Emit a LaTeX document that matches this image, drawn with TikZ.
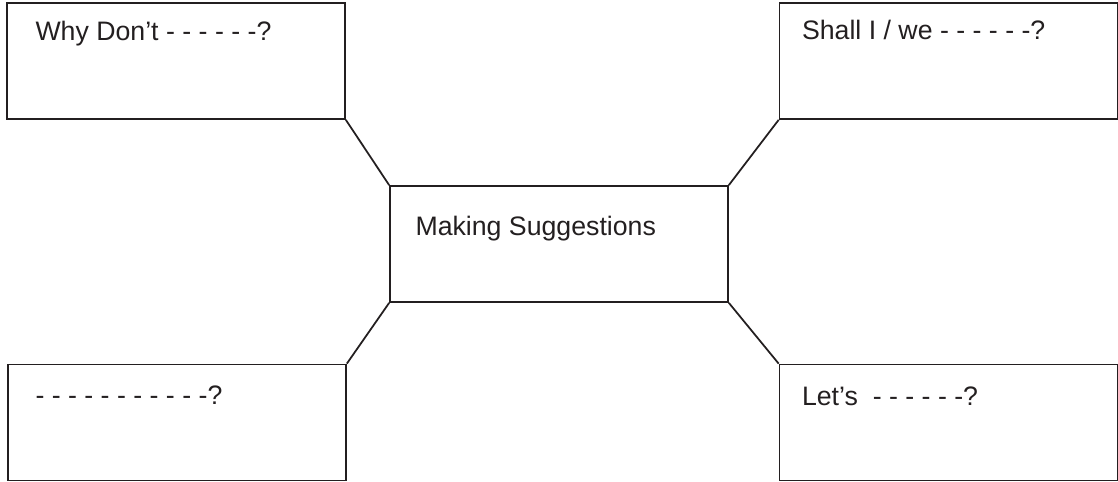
\documentclass[tikz,border=0pt]{standalone}
\usepackage{fontspec}
\setmainfont{Liberation Sans}
\usetikzlibrary{positioning}

\definecolor{inkgray}{HTML}{231F20}

\begin{document}
\begin{tikzpicture}[
  x=0.02cm, y=-0.02cm,
  box/.style={draw=inkgray, line width=1pt, minimum width=6.76cm, minimum height=2.32cm, inner sep=0pt},
  lbl/.style={anchor=base west, inner sep=0pt, text=inkgray, font=\fontsize{15.2}{18}\selectfont},
  link/.style={draw=inkgray, line width=1pt}
]
  \useasboundingbox (0,0) rectangle (1118,482);

  % the five boxes
  \node[box] (dont) at (176,61) {};
  \node[box] (shall) at (948.5,61) {};
  \node[box] (topic) at (559,244) {};
  \node[box] (blank) at (177,422.5) {};
  \node[box] (lets) at (948.5,422.5) {};

  % texts
  \node[lbl] (dontT) at ([shift={(29,38)}]dont.north west) {Why Don’t - - - - - -?};
  \node[lbl] (shallT) at ([shift={(23,37)}]shall.north west) {Shall I / we - - - - - -?};
  \node[lbl] (topicT) at ([shift={(26,50)}]topic.north west) {Making Suggestions};
  \node[lbl] (blankT) at ([shift={(28,41)}]blank.north west) {- - - - - - - - - - -?};
  \node[lbl] (letsT) at ([shift={(23,42)}]lets.north west) {Let’s\ \ - - - - - -?};

  \draw[link] (dont.south east) -- (topic.north west);
  \draw[link] (shall.south west) -- (topic.north east);
  \draw[link] (blank.north east) -- (topic.south west);
  \draw[link] (lets.north west) -- (topic.south east);
\end{tikzpicture}
\end{document}
